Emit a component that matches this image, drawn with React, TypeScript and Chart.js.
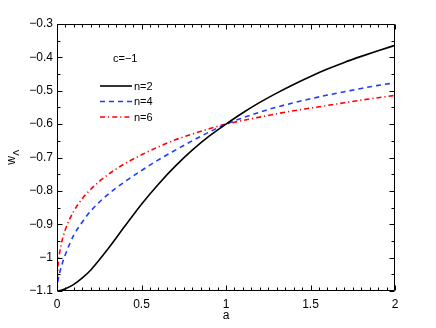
import React, { useEffect, useRef } from "react";
import { Chart, registerables } from "chart.js";

Chart.register(...registerables);

const aValues = [0, 0.005, 0.01, 0.025, 0.05, 0.1, 0.15, 0.2, 0.3, 0.4, 0.5, 0.6, 0.7, 0.8, 0.9, 1.0, 1.1, 1.2, 1.3, 1.4, 1.5, 1.6, 1.7, 1.8, 1.9, 2.0];
const wN2 = [-1.1, -1.0999, -1.0996, -1.0978, -1.093, -1.08, -1.061, -1.037, -0.975, -0.907, -0.840, -0.780, -0.726, -0.678, -0.636, -0.6, -0.566, -0.535, -0.507, -0.481, -0.457, -0.435, -0.415, -0.397, -0.380, -0.364];
const wN4 = [-1.1, -1.072, -1.058, -1.028, -0.99, -0.932, -0.893, -0.860, -0.811, -0.773, -0.739, -0.707, -0.678, -0.650, -0.624, -0.6, -0.581, -0.564, -0.549, -0.536, -0.524, -0.513, -0.503, -0.493, -0.484, -0.476];
const wN6 = [-1.1, -1.03, -1.005, -0.96, -0.915, -0.86, -0.823, -0.795, -0.752, -0.719, -0.692, -0.668, -0.647, -0.630, -0.614, -0.6, -0.589, -0.579, -0.569, -0.56, -0.552, -0.544, -0.536, -0.528, -0.521, -0.514];

const seriesLabels = ["n=2", "n=4", "n=6"];
const annotationText = "c=\u22121";
const xTitle = "a";
const yTitleMain = "w";
const yTitleSub = "\u039B";
const xMin = 0, xMax = 2, xStep = 0.5, xMinor = 0.05;
const yMin = -1.1, yMax = -0.3, yStep = 0.1, yMinor = 0.05;

const FONT = "'Liberation Sans', Arial, Helvetica, sans-serif";

const fmt = (v: number) => {
  const r = Math.round(v * 100) / 100;
  return String(r).replace("-", "\u2212");
};

const framePlugin = {
  id: "framePlugin",
  afterDraw(chart: any) {
    const { ctx, chartArea, scales } = chart;
    const { left, right, top, bottom } = chartArea;
    const xs = scales.x, ys = scales.y;
    ctx.save();
    ctx.strokeStyle = "#000";
    ctx.lineWidth = 1;
    const L = Math.round(left) + 0.5, R = Math.round(right) - 0.5;
    const T = Math.round(top) + 0.5, B = Math.round(bottom) - 0.5;
    ctx.beginPath();
    ctx.rect(L, T, R - L, B - T);
    ctx.stroke();
    ctx.beginPath();
    const nx = Math.round((xMax - xMin) / xMinor);
    for (let i = 0; i <= nx; i++) {
      const v = xMin + i * xMinor;
      const major = Math.abs(v / xStep - Math.round(v / xStep)) < 1e-6;
      const len = major ? 5 : 3;
      const px = Math.round(xs.getPixelForValue(v)) + 0.5;
      ctx.moveTo(px, B); ctx.lineTo(px, B - len);
      ctx.moveTo(px, T); ctx.lineTo(px, T + len);
    }
    const ny = Math.round((yMax - yMin) / yMinor);
    for (let i = 0; i <= ny; i++) {
      const v = yMin + i * yMinor;
      const major = Math.abs(v / yStep - Math.round(v / yStep)) < 1e-6;
      const len = major ? 5 : 3;
      const py = Math.round(ys.getPixelForValue(v)) + 0.5;
      ctx.moveTo(L, py); ctx.lineTo(L + len, py);
      ctx.moveTo(R, py); ctx.lineTo(R - len, py);
    }
    ctx.stroke();

    // axis titles
    ctx.fillStyle = "#000";
    ctx.font = `12px ${FONT}`;
    ctx.textAlign = "center";
    ctx.textBaseline = "middle";
    ctx.fillText(xTitle, (left + right) / 2, 316);

    ctx.save();
    ctx.translate(15, (top + bottom) / 2);
    ctx.rotate(-Math.PI / 2);
    ctx.textAlign = "left";
    ctx.textBaseline = "alphabetic";
    ctx.font = `12px ${FONT}`;
    const wW = ctx.measureText(yTitleMain).width;
    ctx.font = `9px ${FONT}`;
    const sW = ctx.measureText(yTitleSub).width;
    const start = -(wW + sW) / 2;
    ctx.font = `12px ${FONT}`;
    ctx.fillText(yTitleMain, start, 0);
    ctx.font = `9px ${FONT}`;
    ctx.fillText(yTitleSub, start + wW + 0.5, 4);
    ctx.restore();

    // annotation + legend
    ctx.font = `11px ${FONT}`;
    ctx.textAlign = "left";
    ctx.textBaseline = "middle";
    ctx.fillText(annotationText, 113, 59);
    const ds = chart.data.datasets;
    const rows = [86, 101.5, 117];
    ds.forEach((d: any, i: number) => {
      ctx.save();
      ctx.strokeStyle = d.borderColor;
      ctx.lineWidth = d.borderWidth;
      ctx.setLineDash(d.borderDash || []);
      ctx.beginPath();
      ctx.moveTo(100, rows[i]);
      ctx.lineTo(132, rows[i]);
      ctx.stroke();
      ctx.restore();
      ctx.fillStyle = "#000";
      ctx.fillText(seriesLabels[i], 134, rows[i] + 0.5);
    });
    ctx.restore();
  },
};

export default function App() {
  const ref = useRef<HTMLCanvasElement | null>(null);
  useEffect(() => {
    document.body.style.margin = "0";
    const canvas = ref.current!;
    const mk = (ys: number[]) => aValues.map((a, i) => ({ x: a, y: ys[i] }));
    const chart = new Chart(canvas, {
      type: "line",
      data: {
        datasets: [
          { label: seriesLabels[0], data: mk(wN2), borderColor: "#000000", borderWidth: 1.6, pointRadius: 0, cubicInterpolationMode: "monotone", fill: false },
          { label: seriesLabels[1], data: mk(wN4), borderColor: "rgb(30,60,255)", borderWidth: 1.6, borderDash: [5, 4], pointRadius: 0, cubicInterpolationMode: "monotone", fill: false },
          { label: seriesLabels[2], data: mk(wN6), borderColor: "rgb(255,0,0)", borderWidth: 1.6, borderDash: [5, 3, 1.2, 3], pointRadius: 0, cubicInterpolationMode: "monotone", fill: false },
        ],
      },
      options: {
        responsive: false,
        animation: false,
        layout: { padding: { top: 24, right: 41, left: 0, bottom: 0 } },
        plugins: { legend: { display: false }, tooltip: { enabled: false } },
        scales: {
          x: {
            type: "linear",
            min: xMin,
            max: xMax,
            grid: { display: false, drawTicks: false },
            border: { display: false },
            ticks: { stepSize: xStep, padding: 6, color: "#000", font: { family: FONT, size: 12 }, callback: (v: any) => fmt(Number(v)), maxRotation: 0 },
            afterFit: (s: any) => { s.height = 37; },
          },
          y: {
            type: "linear",
            min: yMin,
            max: yMax,
            grid: { display: false, drawTicks: false },
            border: { display: false },
            ticks: { stepSize: yStep, padding: 4, color: "#000", font: { family: FONT, size: 12 }, callback: (v: any) => fmt(Number(v)) },
            afterFit: (s: any) => { s.width = 57; },
          },
        },
      },
      plugins: [framePlugin],
    } as any);
    return () => chart.destroy();
  }, []);
  return (
    <div style={{ position: "absolute", left: 0, top: 0, width: 436, height: 328, background: "#fff" }}>
      <canvas ref={ref} width={436} height={328} style={{ width: 436, height: 328, display: "block" }} />
    </div>
  );
}
